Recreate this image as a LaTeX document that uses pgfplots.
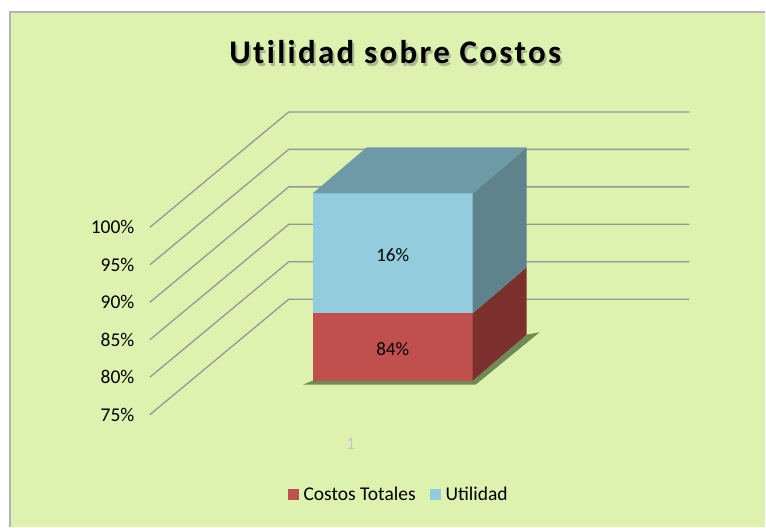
\documentclass[border=0pt]{standalone}
\usepackage{fontspec}
\setmainfont{Carlito}
\usepackage{pgfplots}
\pgfplotsset{compat=1.18}
\definecolor{bg}{RGB}{221,242,174}
\definecolor{redF}{RGB}{192,80,77}
\definecolor{redS}{RGB}{124,48,46}
\definecolor{bluF}{RGB}{147,205,221}
\definecolor{bluS}{RGB}{94,131,141}
\definecolor{bluT}{RGB}{110,154,168}
\definecolor{gridc}{RGB}{150,152,150}
\newcommand{\titlefont}{\bfseries\fontsize{33}{35}\selectfont\addfontfeature{LetterSpace=7,Ligatures=NoCommon}}
\begin{document}
\begin{tikzpicture}[x=1pt,y=1pt]
\fill[white] (0,0) rectangle (766,527);
\fill[bg] (10,0) rectangle (766,515);
\draw[black!30, line width=1.2pt] (10,0) -- (10,515) -- (766,515);
\node[font=\titlefont, text=black!55, opacity=0.45] at (397.5,472) {Utilidad sobre Costos};
\node[font=\titlefont] at (395.5,474.5) {Utilidad sobre Costos};
\begin{axis}[at={(150pt,112pt)}, anchor=south west, scale only axis,
  width=540pt, height=303pt, xmin=0, xmax=540, ymin=75, ymax=115.4,
  clip=false, axis line style={draw=none}, major tick style={draw=none},
  /pgf/number format/assume math mode=true,
  ytick={75,80,85,90,95,100},
  yticklabel={\pgfmathprintnumber{\tick}\%},
  yticklabel style={font=\fontsize{19.5}{21}\selectfont, anchor=east, xshift=-12pt},
  xtick={201}, xticklabels={1},
  xticklabel style={font=\fontsize{18}{20}\selectfont, text=black!22, yshift=-20pt},
  legend style={at={(0.461,-0.265)}, anchor=center, legend columns=2, draw=none, fill=none,
    font=\fontsize{19.5}{21}\selectfont,
    /tikz/every odd column/.append style={column sep=3pt},
    /tikz/every even column/.append style={column sep=12pt}},
  legend image code/.code={\fill[#1,draw=none] (0pt,-5.5pt) rectangle (11pt,6pt);},
]
% gridlines: front plane -> back wall
\addplot[gridc, line width=1.3pt, forget plot] coordinates {(0,75) (139,90.4) (540,90.4)};
\addplot[gridc, line width=1.3pt, forget plot] coordinates {(0,80) (139,95.4) (540,95.4)};
\addplot[gridc, line width=1.3pt, forget plot] coordinates {(0,85) (139,100.4) (540,100.4)};
\addplot[gridc, line width=1.3pt, forget plot] coordinates {(0,90) (139,105.4) (540,105.4)};
\addplot[gridc, line width=1.3pt, forget plot] coordinates {(0,95) (139,110.4) (540,110.4)};
\addplot[gridc, line width=1.3pt, forget plot] coordinates {(0,100) (139,115.4) (540,115.4)};
% shadow
\addplot[fill=black!85!green, opacity=0.5, draw=none, forget plot] coordinates {(153,79.0) (326,79.0) (390,86.0) (377,85.67) (323,79.53) (163,79.53)} --cycle;
% Costos Totales 75 -> 84
\addplot[fill=redF, draw=none] coordinates {(163,79.53) (323,79.53) (323,88.53) (163,88.53)} --cycle;
\addlegendentry{Costos Totales}
\addplot[fill=redS, draw=none, forget plot] coordinates {(323,79.53) (377,85.67) (377,94.67) (323,88.53)} --cycle;
% Utilidad 84 -> 100
\addplot[fill=bluF, draw=none] coordinates {(163,88.53) (323,88.53) (323,104.53) (163,104.53)} --cycle;
\addlegendentry{Utilidad}
\addplot[fill=bluS, draw=none, forget plot] coordinates {(323,88.53) (377,94.67) (377,110.67) (323,104.53)} --cycle;
\addplot[fill=bluT, draw=none, forget plot] coordinates {(163,104.53) (323,104.53) (377,110.67) (217,110.67)} --cycle;
\node[font=\fontsize{19}{21}\selectfont] at (axis cs:243,83.8) {84\%};
\node[font=\fontsize{19}{21}\selectfont] at (axis cs:243,96.3) {16\%};
\end{axis}
\end{tikzpicture}
\end{document}
